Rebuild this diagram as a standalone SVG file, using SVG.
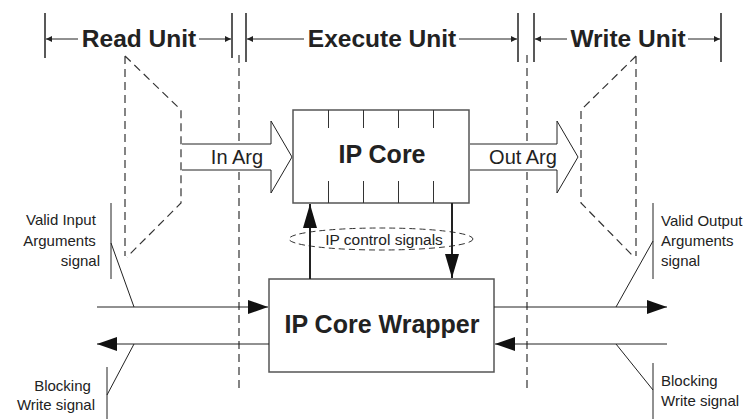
<svg xmlns="http://www.w3.org/2000/svg" width="748" height="419" viewBox="0 0 748 419">
  <defs>
    <style>
      .txt { font-family: "Liberation Sans", Arial, sans-serif; fill: #222; }
      .title { font-size: 24.5px; font-weight: bold; }
      .core { font-size: 25px; font-weight: bold; }
      .arg { font-size: 20px; }
      .sig { font-size: 15px; }
      .ctl { font-size: 15.5px; }
      .line { stroke: #222; stroke-width: 1; fill: none; }
      .bar { stroke: #222; stroke-width: 1.5; fill: none; }
      .dash { stroke: #333; stroke-width: 1.2; fill: none; stroke-dasharray: 8 5; }
      .box { stroke: #555; stroke-width: 1.5; fill: #fff; }
      .tick { stroke: #333; stroke-width: 1; }
      .bus { stroke: #222; stroke-width: 2; fill: none; }
      .argfill { fill: #fff; stroke: none; }
    </style>
    <marker id="dim" viewBox="0 0 10 10" refX="10" refY="5" markerWidth="8" markerHeight="6" markerUnits="userSpaceOnUse" orient="auto">
      <path d="M0,0 L10,5 L0,10 Z" fill="#222"/>
    </marker>
    <marker id="head" viewBox="0 0 20 14" refX="20" refY="7" markerWidth="20" markerHeight="14" markerUnits="userSpaceOnUse" orient="auto">
      <path d="M0,0 L20,7 L0,14 Z" fill="#111"/>
    </marker>
    <marker id="ctlhead" viewBox="0 0 24 14" refX="24" refY="7" markerWidth="24" markerHeight="14" markerUnits="userSpaceOnUse" orient="auto">
      <path d="M0,0 L24,7 L0,14 Z" fill="#111"/>
    </marker>
  </defs>

  <!-- Unit extents along the top -->
  <g id="unit-bars">
    <line class="bar" x1="45" y1="13" x2="45" y2="58"/>
    <line class="bar" x1="232" y1="13" x2="232" y2="58"/>
    <line class="bar" x1="246" y1="13" x2="246" y2="62"/>
    <line class="bar" x1="518" y1="13" x2="518" y2="62"/>
    <line class="bar" x1="534" y1="13" x2="534" y2="62"/>
    <line class="bar" x1="721" y1="13" x2="721" y2="62"/>
  </g>

  <g id="read-unit">
    <line class="line" x1="78" y1="39" x2="46" y2="39" marker-end="url(#dim)"/>
    <line class="line" x1="199" y1="39" x2="231" y2="39" marker-end="url(#dim)"/>
    <text class="txt title" x="139" y="47" text-anchor="middle">Read Unit</text>
  </g>

  <g id="execute-unit">
    <line class="line" x1="304" y1="39" x2="247" y2="39" marker-end="url(#dim)"/>
    <line class="line" x1="459" y1="39" x2="517" y2="39" marker-end="url(#dim)"/>
    <text class="txt title" x="382" y="47" text-anchor="middle">Execute Unit</text>
  </g>

  <g id="write-unit">
    <line class="line" x1="567" y1="39" x2="535" y2="39" marker-end="url(#dim)"/>
    <line class="line" x1="688" y1="39" x2="720" y2="39" marker-end="url(#dim)"/>
    <text class="txt title" x="628" y="47" text-anchor="middle">Write Unit</text>
  </g>

  <!-- Boundaries between units -->
  <g id="boundaries">
    <line class="dash" x1="239" y1="55" x2="239" y2="392"/>
    <line class="dash" x1="527" y1="55" x2="527" y2="392"/>
  </g>

  <!-- Read / write funnels -->
  <g id="read-funnel">
    <path class="dash" d="M125,56 L181,110 L181,203 L127,257 M125,56 L125,256"/>
  </g>
  <g id="write-funnel">
    <path class="dash" d="M636,56 L581,110 L581,203 L634,257 M636,56 L636,256"/>
  </g>

  <!-- Argument flows (white-filled so the boundaries pass behind them) -->
  <g id="in-arg">
    <path class="argfill" d="M182,144 H271 V121 L292,157 L271,193 V170 H182 Z"/>
    <path class="line" d="M182,144 H271 V121 L292,157 L271,193 V170 H182"/>
    <text class="txt arg" x="237" y="164" text-anchor="middle">In Arg</text>
  </g>

  <g id="ip-core">
    <rect class="box" x="293" y="110" width="176" height="93"/>
    <g class="tick">
      <line x1="328.5" y1="110" x2="328.5" y2="128"/>
      <line x1="363.5" y1="110" x2="363.5" y2="128"/>
      <line x1="398.5" y1="110" x2="398.5" y2="128"/>
      <line x1="433.5" y1="110" x2="433.5" y2="128"/>
      <line x1="328.5" y1="181" x2="328.5" y2="203"/>
      <line x1="363.5" y1="181" x2="363.5" y2="203"/>
      <line x1="398.5" y1="181" x2="398.5" y2="203"/>
      <line x1="433.5" y1="181" x2="433.5" y2="203"/>
    </g>
    <text class="txt core" x="382" y="163" text-anchor="middle">IP Core</text>
  </g>

  <g id="out-arg">
    <path class="argfill" d="M470,144 H557 V121 L578,157 L557,193 V170 H470 Z"/>
    <path class="line" d="M470,144 H557 V121 L578,157 L557,193 V170 H470"/>
    <text class="txt arg" x="523" y="164" text-anchor="middle">Out Arg</text>
  </g>

  <g id="ip-core-wrapper">
    <rect class="box" x="269" y="279" width="225" height="93"/>
    <text class="txt core" x="382" y="333" text-anchor="middle">IP Core Wrapper</text>
  </g>

  <g id="control-signals">
    <ellipse cx="381" cy="239" rx="92" ry="11" fill="none" stroke="#333" stroke-width="1" stroke-dasharray="6 4"/>
    <text class="txt ctl" x="384" y="245" text-anchor="middle">IP control signals</text>
  </g>

  <!-- Connectors -->
  <g id="connectors">
    <line class="bus" x1="310" y1="279" x2="310" y2="204" marker-end="url(#ctlhead)"/>
    <line class="bus" x1="452" y1="203" x2="452" y2="278" marker-end="url(#ctlhead)"/>
    <line class="line" x1="97" y1="307" x2="268" y2="307" marker-end="url(#head)"/>
    <line class="line" x1="269" y1="344" x2="97" y2="344" marker-end="url(#head)"/>
    <line class="line" x1="494" y1="307" x2="667" y2="307" marker-end="url(#head)"/>
    <line class="line" x1="667" y1="344" x2="495" y2="344" marker-end="url(#head)"/>
  </g>

  <!-- Signal callouts -->
  <g id="valid-input">
    <line class="line" x1="111" y1="203" x2="111" y2="279"/>
    <line class="line" x1="111" y1="243" x2="134" y2="307"/>
    <text class="txt sig" text-anchor="end">
      <tspan x="100" y="225">Valid Input</tspan>
      <tspan x="100" y="246">Arguments</tspan>
      <tspan x="100" y="266">signal</tspan>
    </text>
  </g>

  <g id="blocking-write-left">
    <line class="line" x1="107" y1="367" x2="107" y2="419"/>
    <line class="line" x1="107" y1="395" x2="134" y2="344"/>
    <text class="txt sig" text-anchor="end">
      <tspan x="95" y="391">Blocking</tspan>
      <tspan x="95" y="410">Write signal</tspan>
    </text>
  </g>

  <g id="valid-output">
    <line class="line" x1="653" y1="203" x2="653" y2="279"/>
    <line class="line" x1="653" y1="241" x2="616" y2="307"/>
    <text class="txt sig">
      <tspan x="661" y="226">Valid Output</tspan>
      <tspan x="661" y="246">Arguments</tspan>
      <tspan x="661" y="266">signal</tspan>
    </text>
  </g>

  <g id="blocking-write-right">
    <line class="line" x1="653" y1="363" x2="653" y2="419"/>
    <line class="line" x1="616" y1="344" x2="653" y2="390"/>
    <text class="txt sig">
      <tspan x="661" y="386">Blocking</tspan>
      <tspan x="661" y="406">Write signal</tspan>
    </text>
  </g>
</svg>
